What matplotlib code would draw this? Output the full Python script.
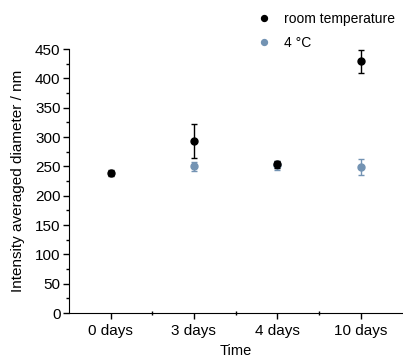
import numpy as np
import matplotlib.pyplot as plt
from matplotlib.ticker import MultipleLocator

plt.rcParams['font.family'] = ['Liberation Sans', 'DejaVu Sans']

categories = ['0 days', '3 days', '4 days', '10 days']

# room temperature
rt_x = [0, 1, 2, 3]
rt_mean = [239, 294, 254, 429]
rt_err = [5, 29, 6, 20]

# 4 degC (no value at day 0)
cold_x = [1, 2, 3]
cold_mean = [250, 252, 249]
cold_err = [7, 8, 14]

fig = plt.figure(figsize=(4.03, 3.64), dpi=100)
ax = fig.add_axes([0.171, 0.140, 0.827, 0.725])

ax.errorbar(rt_x, rt_mean, yerr=rt_err, fmt='o', color='black', ms=5,
            capsize=2.5, elinewidth=1, capthick=1, label='room temperature', zorder=3)
ax.errorbar(cold_x, cold_mean, yerr=cold_err, fmt='o', color='#7393b3', ms=5,
            capsize=2.5, elinewidth=1, capthick=1, label='4 \u00b0C', zorder=2)

ax.set_xlim(-0.5, 3.5)
ax.set_ylim(0, 450)
ax.set_xticks(range(len(categories)))
ax.set_xticklabels(categories)
ax.set_xticks([0.5, 1.5, 2.5], minor=True)
ax.yaxis.set_major_locator(MultipleLocator(50))
ax.yaxis.set_minor_locator(MultipleLocator(25))
ax.tick_params(axis='both', which='major', labelsize=11, length=4, width=1, pad=2)
ax.tick_params(axis='x', which='major', pad=4)
ax.tick_params(axis='both', which='minor', length=2, width=1)
ax.tick_params(axis='x', which='minor', direction='inout', length=3)

for s in ['top', 'right']:
    ax.spines[s].set_visible(False)

ax.set_xlabel('Time', fontsize=10.5, labelpad=4)
ax.set_ylabel('Intensity averaged diameter / nm', fontsize=11, labelpad=7)

h, l = ax.get_legend_handles_labels()
h = [x[0] for x in h]
fig.legend(h, l, loc='upper right', bbox_to_anchor=(1.0, 0.99), frameon=False,
           fontsize=10, handlelength=1, handletextpad=0.9, labelspacing=0.7,
           borderaxespad=0.2, markerscale=0.85)

fig.savefig('out.png', dpi=100)
